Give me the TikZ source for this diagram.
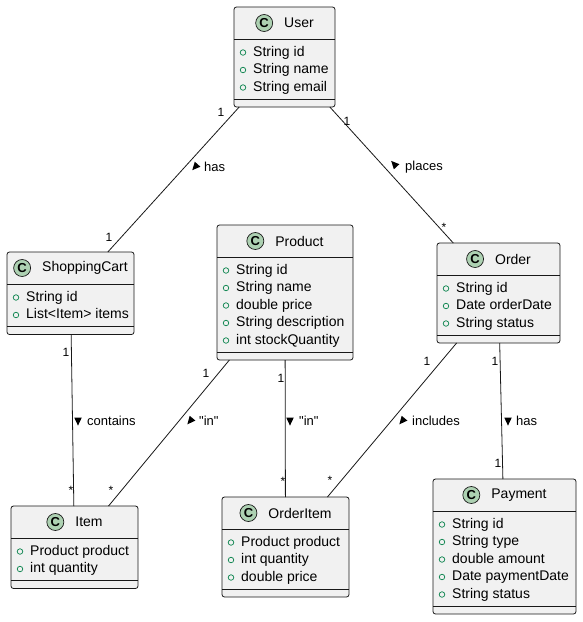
\documentclass[tikz,border=0pt]{standalone}
\usepackage{fontspec}
\setmainfont{Liberation Sans}[Ligatures=TeXOff]
\usetikzlibrary{positioning, shapes.geometric}
\definecolor{linegray}{HTML}{181818}
\definecolor{boxfill}{HTML}{F1F1F1}
\definecolor{cgreen}{HTML}{ADD1B2}
\definecolor{dotgreen}{HTML}{038048}
\tikzset{clsbox/.style={draw=linegray, fill=boxfill, rounded corners=2.5pt, inner sep=0, outer sep=0, line width=0.8pt}}
\tikzset{clsline/.style={draw=linegray, line width=0.8pt}}
\tikzset{clsname/.style={inner sep=0, font=\fontsize{14}{16}\selectfont}}
\tikzset{clsC/.style={circle, draw=linegray, fill=cgreen, minimum size=17pt, inner sep=0, line width=0.7pt, font=\fontsize{13}{15}\selectfont\bfseries}}
\tikzset{clsattr/.style={inner sep=0, anchor=west, text height=10pt, text depth=3pt, font=\fontsize{14}{16}\selectfont}}
\tikzset{attrdot/.style={circle, draw=dotgreen, minimum size=5.5pt, inner sep=0, line width=0.7pt}}
\tikzset{assoc/.style={draw=linegray, line width=0.8pt}}
\tikzset{mult/.style={inner sep=0, font=\fontsize{12}{14}\selectfont}}
\tikzset{lbl/.style={inner sep=0, anchor=west, font=\fontsize{13}{15}\selectfont}}
\tikzset{dirtri/.style={isosceles triangle, isosceles triangle stretches, fill=black, inner sep=0, minimum height=8pt, minimum width=7.5pt}}
% #1 name, #2 left, #3 top, #4 width, #5 number of fields, #6 title, #7 fields
\newcommand\umlclass[7]{
		\pgfmathsetmacro\clsh{47.5+17.5*#5}
		\node[clsbox, minimum width=#4, minimum height=\clsh, anchor=north west] (#1) at (#2,#3) {};
		\draw[clsline] ([yshift=-32pt]#1.north west) -- ([yshift=-32pt]#1.north east);
		\draw[clsline] ([yshift=8pt]#1.south west) -- ([yshift=8pt]#1.south east);
		\node[clsname] (#1-name) at ([xshift=14.5pt, yshift=-16pt]#1.north) {#6};
		\node[clsC, left=11pt of #1-name] (#1-c) {C};
		\foreach \f [count=\i] in {#7} {
			\node[attrdot] (#1-d\i) at ([xshift=9pt, yshift={-45.5pt-(\i-1)*17.5pt}]#1.north west) {};
			\node[clsattr] (#1-a\i) at ([xshift=19pt, yshift={-45.5pt-(\i-1)*17.5pt}]#1.north west) {\f};
		}
		}

\begin{document}
\begin{tikzpicture}[x=1pt, y=-1pt]
	\useasboundingbox (0,0) rectangle (583,622);
	\fill[white] (0,0) rectangle (583,622);
	% classes
	\umlclass{user}{234}{7}{101}{3}{User}{String id, String name, String email}
	\umlclass{cart}{7}{252}{127}{2}{ShoppingCart}{String id, List<Item> items}
	\umlclass{product}{217}{225}{136}{5}{Product}{String id, String name, double price, String description, int stockQuantity}
	\umlclass{order}{437}{243}{123}{3}{Order}{String id, Date orderDate, String status}
	\umlclass{item}{11}{506}{127}{2}{Item}{Product product, int quantity}
	\umlclass{orderitem}{222}{497}{127}{3}{OrderItem}{Product product, int quantity, double price}
	\umlclass{payment}{433}{479}{143}{5}{Payment}{String id, String type, double amount, Date paymentDate, String status}

	% user -- cart
	\draw[assoc] (user) -- (cart);
	\node[mult] (uc1) at (221,112) {1};
	\node[mult] (uc2) at (109,237) {1};
	\node[dirtri, rotate=228] (uc3) at (196,166) {};
	\node[lbl] (uc4) at (204,167) {has};
	% user -- order
	\draw[assoc] (user) -- (order);
	\node[mult] (uo1) at (347,121) {1};
	\node[mult] (uo2) at (444,227) {*};
	\node[dirtri, rotate=133] (uo3) at (395,165) {};
	\node[lbl] (uo4) at (405,167) {places};
	% cart -- item
	\draw[assoc] (cart) -- (item);
	\node[mult] (ci1) at (66,352) {1};
	\node[mult] (ci2) at (71,490) {*};
	\node[dirtri, rotate=270] (ci3) at (78,420) {};
	\node[lbl] (ci4) at (87,421) {contains};
	% product -- item
	\draw[assoc] (product) -- (item);
	\node[mult] (pi1) at (206,373) {1};
	\node[mult] (pi2) at (111,490) {*};
	\node[dirtri, rotate=230] (pi3) at (191,420) {};
	\node[lbl] (pi4) at (199,421) {"in"};
	% product -- orderitem
	\draw[assoc] (product) -- (orderitem);
	\node[mult] (po1) at (281,378) {1};
	\node[mult] (po2) at (283,481) {*};
	\node[dirtri, rotate=270] (po3) at (290,420) {};
	\node[lbl] (po4) at (299,421) {"in"};
	% order -- orderitem
	\draw[assoc] (order) -- (orderitem);
	\node[mult] (oo1) at (427,361) {1};
	\node[mult] (oo2) at (330,480) {*};
	\node[dirtri, rotate=230] (oo3) at (403,420) {};
	\node[lbl] (oo4) at (412,421) {includes};
	% order -- payment
	\draw[assoc] (order) -- (payment);
	\node[mult] (op1) at (495,361) {1};
	\node[mult] (op2) at (498,463) {1};
	\node[dirtri, rotate=270] (op3) at (508,420) {};
	\node[lbl] (op4) at (516,421) {has};
\end{tikzpicture}
\end{document}
